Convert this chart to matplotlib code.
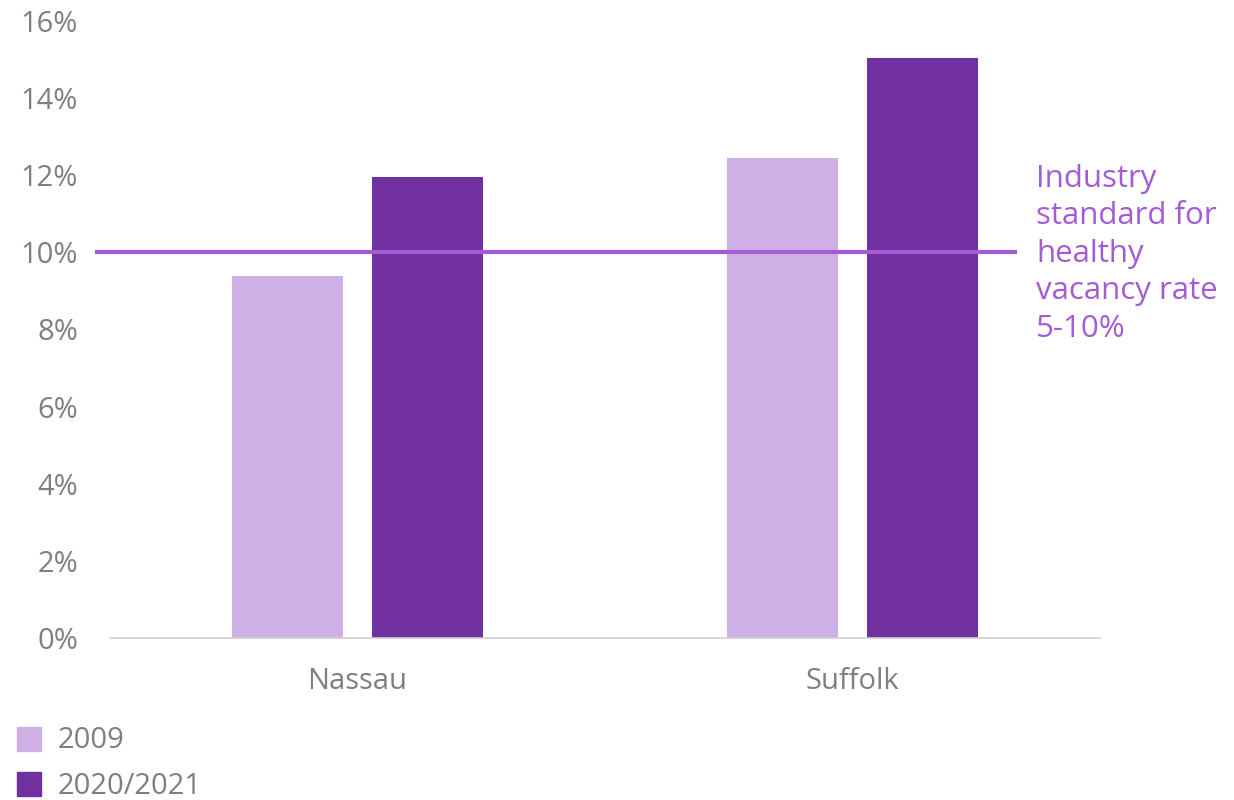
import numpy as np
import matplotlib.pyplot as plt
from matplotlib.patches import Rectangle

counties = ['Nassau', 'Suffolk']
rate_2009 = [9.4, 12.45]
rate_2021 = [11.95, 15.05]
series_labels = ['2009', '2020/2021']
standard = 10
yticks = [0, 2, 4, 6, 8, 10, 12, 14, 16]

light = '#CFB0E6'
dark = '#7030A0'
line_col = '#A35BD6'
grey = '#7F7F7F'

plt.rcParams['font.family'] = ['Open Sans', 'DejaVu Sans']

fig = plt.figure(figsize=(12.34, 8), dpi=100)
ax = fig.add_axes([110 / 1234, 1 - 638 / 800, 990 / 1234, 617 / 800])

x = np.arange(len(counties))
w = 0.224
ax.bar(x - 0.142, rate_2009, w, color=light, zorder=2)
ax.bar(x + 0.142, rate_2021, w, color=dark, zorder=2)

ax.plot([-0.526, 1.328], [standard, standard], color=line_col, lw=3, clip_on=False, zorder=3)
ax.text(1.371, 12.3, 'Industry\nstandard for\nhealthy\nvacancy rate\n5-10%', color=line_col,
        fontsize=22.5, va='top', ha='left', linespacing=1.33, clip_on=False)

ax.set_xlim(-0.5, 1.5)
ax.set_ylim(0, 16)
ax.set_yticks(yticks)
ax.set_yticklabels([f'{t}%' for t in yticks])
ax.set_xticks(x)
ax.set_xticklabels(counties)
ax.tick_params(axis='both', length=0, labelsize=21, colors=grey)
ax.tick_params(axis='x', pad=21)
ax.tick_params(axis='y', pad=23)
for s in ['top', 'right', 'left']:
    ax.spines[s].set_visible(False)
ax.spines['bottom'].set_color('#D0D0D0')
ax.spines['bottom'].set_linewidth(1.2)

# legend at bottom left
for i, (lab, col) in enumerate(zip(series_labels, [light, dark])):
    yc = 800 - (739 + 45 * i)
    fig.patches.append(Rectangle((17 / 1234, (yc - 12) / 800), 24 / 1234, 24 / 800,
                                 transform=fig.transFigure, color=col))
    fig.text(58 / 1234, (yc - 2) / 800, lab, color=grey, fontsize=21, va='center', ha='left')

fig.savefig('out.png', dpi=100)
